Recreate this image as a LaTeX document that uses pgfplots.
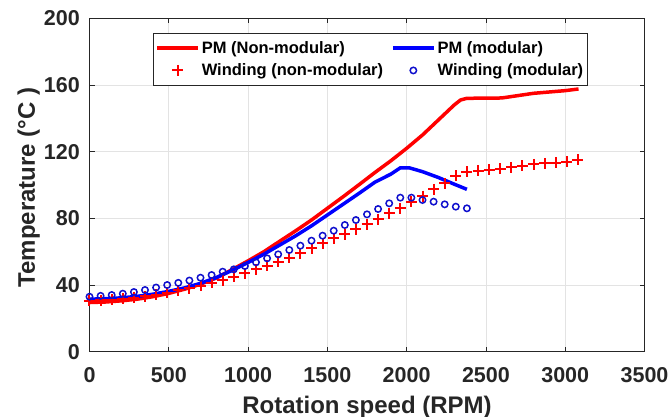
\documentclass[border=0pt]{standalone}
\usepackage{fontspec}
\setmainfont{Liberation Sans}
\usepackage{pgfplots}
\pgfplotsset{compat=1.18}
\definecolor{mred}{RGB}{255,0,0}
\definecolor{mblue}{RGB}{0,0,255}
\definecolor{mdblue}{RGB}{15,15,205}
\definecolor{axgray}{RGB}{38,38,38}
\begin{document}
\begin{tikzpicture}
\begin{axis}[
 scale only axis, width=555pt, height=333.4pt,
 xmin=0, xmax=3500, ymin=0, ymax=200,
 xtick={0,500,...,3500}, ytick={0,40,...,200},
 scaled x ticks=false,
 /pgf/number format/1000 sep={},
 /pgf/number format/assume math mode=true,
 tick align=inside, tick pos=both, major tick length=5pt,
 grid=major, grid style={color=gray!22, line width=0.6pt},
 axis line style={axgray, line width=0.8pt},
 every tick/.style={axgray, line width=0.6pt},
 ticklabel style={font=\bfseries\fontsize{21.5}{21.5}\selectfont, text=axgray},
 xticklabel style={anchor=base, yshift=-30.3pt},
 yticklabel style={anchor=east, inner xsep=0pt, xshift=-9.5pt},
 xlabel={Rotation speed (RPM)}, ylabel={Temperature (°C )},
 label style={font=\bfseries\fontsize{24}{24}\selectfont, text=axgray},
 xlabel style={at={(axis description cs:0.5,-0.1839)}, anchor=base},
 ylabel style={at={(axis description cs:-0.0982,0.4925)}, anchor=base},
 legend columns=2,
 legend cell align=left,
 legend style={at={(axis description cs:0.1144,0.956)}, anchor=north west,
   draw=axgray, line width=0.6pt, text=black,
   font=\bfseries\fontsize{16.5}{16.5}\selectfont,
   inner xsep=2pt, inner ysep=6pt, row sep=5pt,
   /tikz/every even column/.append style={column sep=6pt}},
 legend image code/.code={\draw[mark repeat=2,mark phase=2,#1] plot coordinates {(0pt,0pt) (20.5pt,0pt) (41pt,0pt)};},
]
\addplot[mred, line width=3.5pt] coordinates {
(0,29.5) (100,29.8) (200,30.5) (300,31.5) (400,33) (500,35) (600,37.5) (700,40.5)
(800,44.2) (900,49.3) (1000,54.5) (1100,60) (1200,66.3) (1300,72.5) (1400,79) (1500,86)
(1600,93) (1700,100.2) (1800,107.5) (1900,114.5) (2000,122) (2100,130) (2200,139)
(2300,148) (2340,151) (2380,152) (2600,152.2) (2800,155) (3000,156.6) (3084,157.6)};
\addlegendentry{PM (Non-modular)}
\addplot[mblue, line width=3.5pt] coordinates {
(0,31.5) (100,31.8) (200,32.3) (300,33.2) (400,34.5) (500,36.2) (600,38.3) (700,41)
(800,44.5) (900,48.8) (1000,53.5) (1100,58.5) (1200,64) (1300,69.5) (1400,75.5) (1500,82)
(1600,88.5) (1700,95) (1800,101.7) (1900,106.5) (1960,110.3) (2020,110.2) (2100,108)
(2200,104.5) (2300,100.5) (2380,97.4)};
\addlegendentry{PM (modular)}
\addplot[only marks, mark=+, mred, mark size=5.5pt, line width=2pt] coordinates {
(0,30.5) (70,31) (140,31.3) (210,31.8) (280,32.5) (350,33.3) (420,34.3) (490,35.5)
(560,36.8) (630,38.2) (700,39.7) (770,41.3) (840,43) (910,45) (980,47) (1050,49.4)
(1120,51.5) (1190,54) (1260,56.4) (1330,59) (1400,62) (1470,65) (1540,68) (1610,70.5)
(1680,73.4) (1750,76.4) (1820,79.4) (1890,83) (1960,86) (2030,90) (2100,93.4) (2170,97.4)
(2240,101) (2310,105.4) (2380,108) (2450,108.6) (2520,109) (2590,109.8) (2660,110.6)
(2730,111.6) (2800,112.4) (2870,113) (2940,113.4) (3010,113.8) (3080,115)};
\addlegendentry{Winding (non-modular)}
\addplot[only marks, mark=o, mdblue, mark size=3.2pt, line width=1.5pt] coordinates {
(0,33) (70,33.5) (140,34) (210,34.8) (280,35.8) (350,37) (420,38.5) (490,40)
(560,41.3) (630,42.7) (700,44.4) (770,46) (840,48) (910,49.4) (980,51.4) (1050,53.6)
(1120,56) (1190,58.4) (1260,61) (1330,63.6) (1400,66.6) (1470,69.6) (1540,72.6) (1610,76)
(1680,79) (1750,82.4) (1820,85.6) (1890,89) (1960,92.4) (2030,92.4) (2100,91) (2170,90)
(2240,88.4) (2310,87) (2380,86)};
\addlegendentry{Winding (modular)}
\end{axis}
\pgfresetboundingbox
\useasboundingbox ([shift={(-89.5pt,-65.3pt)}]current axis.south west) rectangle ++(671pt,417pt);
\end{tikzpicture}
\end{document}
